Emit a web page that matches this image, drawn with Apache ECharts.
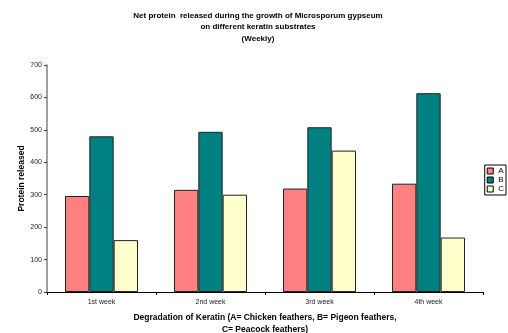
<!DOCTYPE html>
<html>
<head>
<meta charset="utf-8">
<script src="https://cdn.jsdelivr.net/npm/echarts@6/dist/echarts.min.js"></script>
<style>
  html, body { margin: 0; padding: 0; background: #fff; }
  #chart { width: 508px; height: 333px; }
</style>
</head>
<body>
<div id="chart"></div>
<script>
// weekly values
const weeks = ['1st week', '2nd week', '3rd week', '4th week'];
const seriesA = [296, 315, 319, 334];
const seriesB = [480, 494, 508, 613];
const seriesC = [160, 300, 436, 168];
const yTicks = [0, 100, 200, 300, 400, 500, 600, 700];

const chart = echarts.init(document.getElementById('chart'), null, { renderer: 'canvas' });

const font = '"Liberation Sans", Arial, sans-serif';
const barBorder = { borderColor: '#222', borderWidth: 1 };

const option = {
	animation: false,
	title: {
		text: 'Net protein  released during the growth of Microsporum gypseum\non different keratin substrates\n(Weekly)',
		left: 258,
		top: 10,
		padding: 0,
		textAlign: 'center',
		textStyle: { fontFamily: font, fontSize: 8, fontWeight: 'bold', color: '#000', lineHeight: 11.5 }
	},
	legend: {
		orient: 'vertical',
		right: 2,
		top: 165,
		icon: 'rect',
		itemWidth: 6,
		itemHeight: 6,
		itemGap: 1,
		padding: [2, 2, 2, 2],
		borderColor: '#000',
		borderWidth: 1,
		borderRadius: 0,
		textStyle: { fontFamily: font, fontSize: 8, color: '#000', lineHeight: 7 },
		itemStyle: { borderColor: '#000', borderWidth: 1 },
		data: ['A', 'B', 'C']
	},
	grid: { left: 47, right: 25, top: 65, bottom: 41, outerBoundsMode: 'none', containLabel: false },
	xAxis: {
		type: 'category',
		data: weeks,
		name: 'Degradation of Keratin (A= Chicken feathers, B= Pigeon feathers,\nC= Peacock feathers)',
		nameLocation: 'middle',
		nameGap: 20,
		nameMoveOverlap: false,
		nameTextStyle: { fontFamily: font, fontSize: 8.5, fontWeight: 'bold', color: '#000', lineHeight: 12 },
		axisLine: { lineStyle: { color: '#000', width: 1 } },
		axisTick: { show: true, length: 3, inside: false, lineStyle: { color: '#000' } },
		axisLabel: { fontFamily: font, fontSize: 7, color: '#222', margin: 7 },
		splitLine: { show: false }
	},
	yAxis: {
		type: 'value',
		min: 0,
		max: 700,
		interval: 100,
		name: 'Protein released',
		nameLocation: 'middle',
		nameGap: 21,
		nameMoveOverlap: false,
		nameTextStyle: { fontFamily: font, fontSize: 8.5, fontWeight: 'bold', color: '#000' },
		axisLine: { show: true, lineStyle: { color: '#808080', width: 1.5 } },
		axisTick: { show: true, length: 3, lineStyle: { color: '#444' } },
		axisLabel: {
			fontFamily: font, fontSize: 7, color: '#222', margin: 5,
			formatter: v => (yTicks.indexOf(v) >= 0 ? String(v) : '')
		},
		splitLine: { show: false }
	},
	series: [
		{ name: 'A', type: 'bar', data: seriesA, barGap: '0%', barCategoryGap: '33%',
		  itemStyle: Object.assign({ color: '#FF8080' }, barBorder) },
		{ name: 'B', type: 'bar', data: seriesB,
		  itemStyle: Object.assign({ color: '#008080' }, barBorder) },
		{ name: 'C', type: 'bar', data: seriesC,
		  itemStyle: Object.assign({ color: '#FFFFCC' }, barBorder) }
	]
};

chart.setOption(option);
</script>
</body>
</html>
